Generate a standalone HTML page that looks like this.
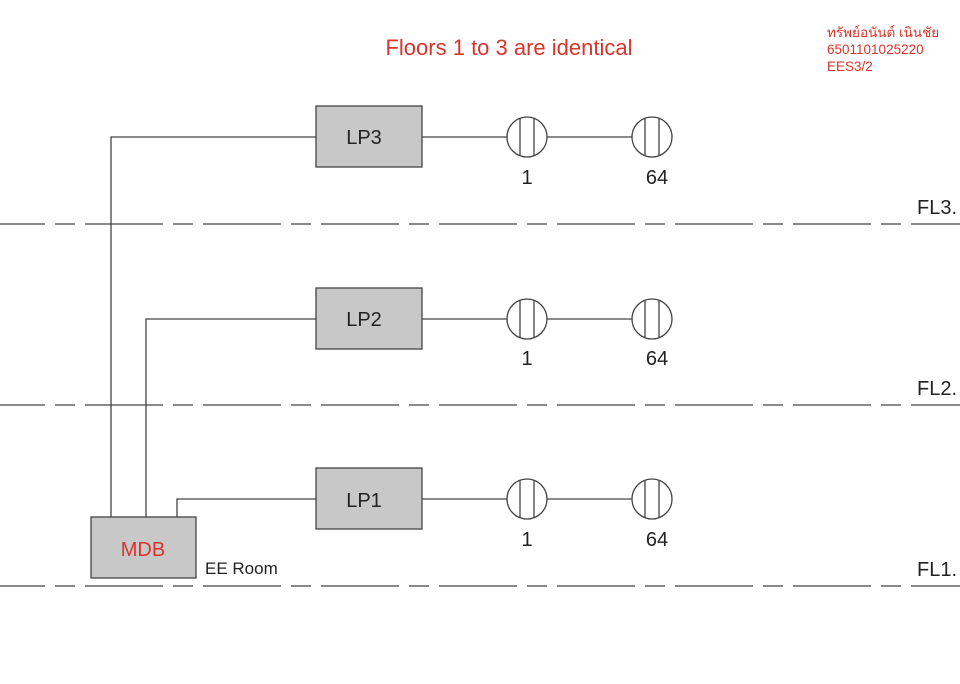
<!DOCTYPE html>
<html><head><meta charset="utf-8"><style>html,body{margin:0;padding:0;background:#fff}</style></head><body>
<svg width="960" height="679" viewBox="0 0 960 679" xmlns="http://www.w3.org/2000/svg" font-family="Liberation Sans, sans-serif">
<rect width="960" height="679" fill="#fff"/>
<g stroke="#444" stroke-width="1.3" fill="none">
<line x1="0" y1="224" x2="960" y2="224" stroke-dasharray="78 10 20 10" stroke-dashoffset="33"/>
<line x1="0" y1="405" x2="960" y2="405" stroke-dasharray="78 10 20 10" stroke-dashoffset="33"/>
<line x1="0" y1="586" x2="960" y2="586" stroke-dasharray="78 10 20 10" stroke-dashoffset="33"/>
<polyline points="111,517 111,137 316,137"/>
<polyline points="146,517 146,319 316,319"/>
<polyline points="177,517 177,499 316,499"/>
<line x1="422" y1="137" x2="632" y2="137"/>
<line x1="422" y1="319" x2="632" y2="319"/>
<line x1="422" y1="499" x2="632" y2="499"/>
</g>
<g stroke="#444" stroke-width="1.3" fill="#c8c8c8">
<rect x="316" y="106" width="106" height="61"/>
<rect x="316" y="288" width="106" height="61"/>
<rect x="316" y="468" width="106" height="61"/>
<rect x="91" y="517" width="105" height="61"/>
</g>
<g stroke="#444" stroke-width="1.3" fill="#fff">
<g id="lamp"><circle cx="527" cy="137" r="20"/><line x1="520" y1="118" x2="520" y2="156"/><line x1="534" y1="118" x2="534" y2="156"/></g>
<use href="#lamp" x="125"/>
<use href="#lamp" y="182"/><use href="#lamp" x="125" y="182"/>
<use href="#lamp" y="362"/><use href="#lamp" x="125" y="362"/>
</g>
<g font-size="20" fill="#222" text-anchor="middle">
<text x="364" y="144">LP3</text><text x="364" y="326">LP2</text><text x="364" y="507">LP1</text>
<text x="527" y="184">1</text><text x="657" y="184">64</text>
<text x="527" y="365">1</text><text x="657" y="365">64</text>
<text x="527" y="546">1</text><text x="657" y="546">64</text>
</g>
<text x="143" y="556" font-size="20" fill="#d9342b" text-anchor="middle">MDB</text>
<text x="205" y="574" font-size="17" fill="#222">EE Room</text>
<g font-size="20" fill="#222"><text x="917" y="214">FL3.</text><text x="917" y="395">FL2.</text><text x="917" y="576">FL1.</text></g>
<text x="509" y="55" font-size="22" fill="#d9342b" text-anchor="middle">Floors 1 to 3 are identical</text>
<g font-size="13.5" fill="#d9342b" font-family="Liberation Sans, Noto Sans CJK SC, sans-serif">
<text x="827" y="37">ทรัพย์อนันต์ เนินชัย</text>
<text x="827" y="54">6501101025220</text>
<text x="827" y="71">EES3/2</text>
</g>
</svg>
</body></html>
